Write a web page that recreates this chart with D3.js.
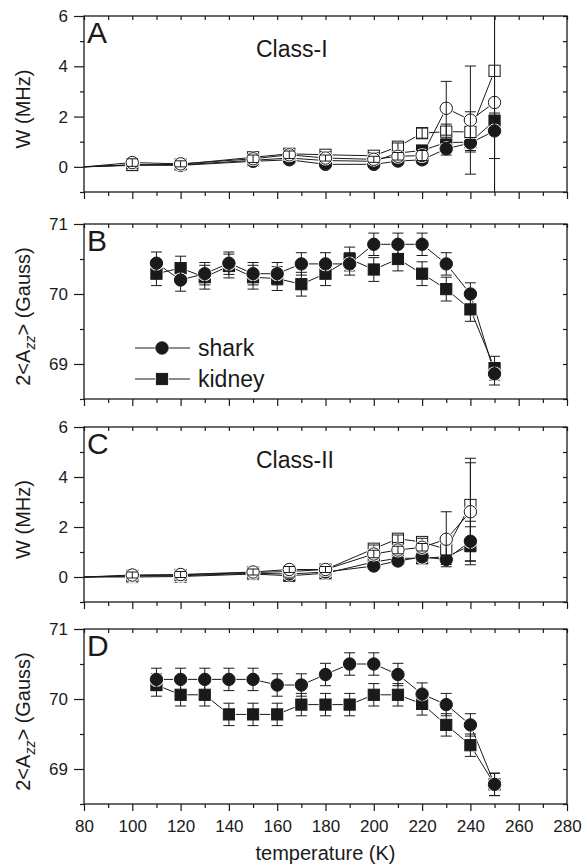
<!DOCTYPE html>
<html>
<head>
<meta charset="utf-8">
<script src="https://cdn.jsdelivr.net/npm/d3@7"></script>
<style>
  body { margin: 0; background: #fff; }
  svg text { font-family: "Liberation Sans", Arial, Helvetica, sans-serif; fill: #1a1a1a; }
</style>
</head>
<body>
<svg id="chart" width="582" height="868"></svg>
<script>
// ---- data ----
// Class-I W (MHz)
const tempA = [80, 100, 120, 150, 165, 180, 200, 210, 220, 230, 240, 250];
const sharkA = [0, 0.08, 0.06, 0.22, 0.28, 0.10, 0.10, 0.23, 0.28, 0.72, 0.95, 1.43];
const sharkAErr = [0, 0.10, 0.10, 0.12, 0.12, 0.10, 0.10, 0.12, 0.15, 0.25, 0.30, 1.10];
const kidneyA = [0, 0.06, 0.08, 0.26, 0.35, 0.25, 0.22, 0.55, 0.65, 0.97, 0.98, 1.84];
const kidneyAErr = [0, 0.10, 0.10, 0.12, 0.12, 0.10, 0.10, 0.12, 0.15, 0.25, 0.20, 0.30];
const sharkOpenA = [0, 0.17, 0.12, 0.32, 0.48, 0.35, 0.30, 0.42, 0.45, 2.33, 1.86, 2.56];
const sharkOpenAErr = [0, 0.15, 0.12, 0.15, 0.15, 0.12, 0.12, 0.15, 0.20, 1.07, 2.15, 7];
const kidneyOpenA = [0, 0.08, 0.10, 0.38, 0.52, 0.48, 0.44, 0.80, 1.34, 1.40, 1.39, 3.82];
const kidneyOpenAErr = [0, 0.15, 0.12, 0.15, 0.15, 0.12, 0.12, 0.15, 0.20, 0.30, 0.80, 6];

// Class-II W (MHz)
const tempC = [80, 100, 120, 150, 165, 180, 200, 210, 220, 230, 240];
const sharkC = [0, 0.04, 0.05, 0.15, 0.12, 0.20, 0.44, 0.64, 0.80, 0.70, 1.43];
const sharkCErr = [0, 0.10, 0.10, 0.10, 0.10, 0.10, 0.12, 0.12, 0.15, 0.20, 0.80];
const kidneyC = [0, 0.00, 0.02, 0.12, 0.05, 0.15, 0.60, 0.75, 0.75, 0.81, 1.25];
const kidneyCErr = [0, 0.10, 0.10, 0.10, 0.10, 0.10, 0.12, 0.12, 0.15, 0.20, 0.76];
const sharkOpenC = [0, 0.08, 0.10, 0.20, 0.30, 0.30, 0.92, 1.08, 1.19, 1.51, 2.61];
const sharkOpenCErr = [0, 0.12, 0.12, 0.12, 0.12, 0.12, 0.15, 0.15, 0.15, 1.10, 1.96];
const kidneyOpenC = [0, 0.05, 0.08, 0.18, 0.22, 0.30, 1.13, 1.53, 1.40, 1.11, 2.88];
const kidneyOpenCErr = [0, 0.12, 0.12, 0.12, 0.12, 0.12, 0.15, 0.15, 0.15, 0.25, 1.87];

// 2<Azz> (Gauss)
const tempB = [110, 120, 130, 140, 150, 160, 170, 180, 190, 200, 210, 220, 230, 240, 250];
const sharkB = [70.44, 70.20, 70.29, 70.44, 70.29, 70.29, 70.43, 70.43, 70.43, 70.71, 70.71, 70.71, 70.43, 70.00, 68.86];
const sharkBErr = [0.16, 0.16, 0.16, 0.16, 0.16, 0.16, 0.16, 0.16, 0.16, 0.16, 0.16, 0.16, 0.16, 0.16, 0.16];
const kidneyB = [70.29, 70.37, 70.24, 70.40, 70.24, 70.22, 70.14, 70.29, 70.50, 70.35, 70.50, 70.29, 70.07, 69.78, 68.94];
const kidneyBErr = [0.17, 0.17, 0.17, 0.17, 0.17, 0.17, 0.17, 0.17, 0.17, 0.17, 0.17, 0.17, 0.17, 0.17, 0.17];

const tempD = [110, 120, 130, 140, 150, 160, 170, 180, 190, 200, 210, 220, 230, 240, 250];
const sharkD = [70.28, 70.28, 70.28, 70.28, 70.28, 70.20, 70.20, 70.35, 70.50, 70.50, 70.35, 70.07, 69.92, 69.63, 68.78];
const sharkDErr = [0.16, 0.16, 0.16, 0.16, 0.16, 0.16, 0.16, 0.16, 0.16, 0.16, 0.16, 0.16, 0.16, 0.16, 0.16];
const kidneyD = [70.20, 70.06, 70.06, 69.78, 69.78, 69.78, 69.92, 69.92, 69.92, 70.06, 70.06, 69.93, 69.63, 69.34, 68.78];
const kidneyDErr = [0.16, 0.16, 0.16, 0.16, 0.16, 0.16, 0.16, 0.16, 0.16, 0.16, 0.16, 0.16, 0.16, 0.16, 0.16];

const xTicks = [80, 100, 120, 140, 160, 180, 200, 220, 240, 260, 280];
const wTicks = [0, 2, 4, 6];
const azzTicks = [69, 70, 71];
const legendItems = [{ label: 'shark', shape: 'circle' }, { label: 'kidney', shape: 'square' }];

// ---- layout ----
const svg = d3.select('#chart');
const ink = '#1a1a1a';
const left = 84, right = 567;
const x = d3.scaleLinear().domain([80, 280]).range([left, right]);

function pts(t, v, e) {
  return t.map((d, i) => ({ t: d, v: v[i], e: e[i] }));
}

const panels = [
  { id: 'A', top: 16, bottom: 192, domain: [-1, 6], major: wTicks, minorStep: 1, title: 'W (MHz)', note: 'Class-I',
    series: [
      { data: pts(tempA, kidneyA, kidneyAErr), shape: 'square', fill: ink },
      { data: pts(tempA, sharkA, sharkAErr), shape: 'circle', fill: ink },
      { data: pts(tempA, kidneyOpenA, kidneyOpenAErr), shape: 'square', fill: '#fff' },
      { data: pts(tempA, sharkOpenA, sharkOpenAErr), shape: 'circle', fill: '#fff' }
    ] },
  { id: 'B', top: 224, bottom: 399, domain: [68.5, 71], major: azzTicks, minorStep: 0.5, title: 'azz', legend: true,
    series: [
      { data: pts(tempB, kidneyB, kidneyBErr), shape: 'square', fill: ink },
      { data: pts(tempB, sharkB, sharkBErr), shape: 'circle', fill: ink }
    ] },
  { id: 'C', top: 427, bottom: 602, domain: [-1, 6], major: wTicks, minorStep: 1, title: 'W (MHz)', note: 'Class-II',
    series: [
      { data: pts(tempC, kidneyC, kidneyCErr), shape: 'square', fill: ink },
      { data: pts(tempC, sharkC, sharkCErr), shape: 'circle', fill: ink },
      { data: pts(tempC, kidneyOpenC, kidneyOpenCErr), shape: 'square', fill: '#fff' },
      { data: pts(tempC, sharkOpenC, sharkOpenCErr), shape: 'circle', fill: '#fff' }
    ] },
  { id: 'D', top: 629, bottom: 804, domain: [68.5, 71], major: azzTicks, minorStep: 0.5, title: 'azz', xLabels: true,
    series: [
      { data: pts(tempD, kidneyD, kidneyDErr), shape: 'square', fill: ink },
      { data: pts(tempD, sharkD, sharkDErr), shape: 'circle', fill: ink }
    ] }
];

const circleR = 6.2, sqHalf = 5.6, capHalf = 5.5;

function drawMarker(g, shape, cx, cy, fill, halo) {
  if (shape === 'circle') {
    g.append('circle').attr('cx', cx).attr('cy', cy).attr('r', circleR + (halo ? 1.2 : 0))
      .attr('fill', halo ? '#fff' : fill).attr('stroke', halo ? 'none' : ink).attr('stroke-width', 1);
  } else {
    const h = sqHalf + (halo ? 1.2 : 0);
    g.append('rect').attr('x', cx - h).attr('y', cy - h).attr('width', 2 * h).attr('height', 2 * h)
      .attr('fill', halo ? '#fff' : fill).attr('stroke', halo ? 'none' : ink).attr('stroke-width', 1);
  }
}

panels.forEach(p => {
  const y = d3.scaleLinear().domain(p.domain).range([p.bottom, p.top]);
  const g = svg.append('g');

  // clip for data
  svg.append('clipPath').attr('id', 'clip' + p.id)
    .append('rect').attr('x', left).attr('y', p.top).attr('width', right - left).attr('height', p.bottom - p.top);
  const data = g.append('g').attr('clip-path', `url(#clip${p.id})`);

  const minorY = d3.range(p.domain[0], p.domain[1] + 1e-9, p.minorStep).filter(v => !p.major.some(m => Math.abs(m - v) < 1e-9));
  const allY = d3.range(p.domain[0], p.domain[1] + 1e-9, p.minorStep);
  const minorX = d3.range(90, 280, 20);
  const allX = d3.range(80, 281, 10);

  // axes
  const axisStyle = sel => {
    sel.select('.domain').remove();
    sel.selectAll('line').attr('stroke', ink).attr('stroke-width', 1.2);
    sel.selectAll('text').style('font-size', '17px').attr('fill', ink);
  };
  g.append('g').attr('transform', `translate(0,${p.bottom})`)
    .call(d3.axisBottom(x).tickValues(xTicks).tickSize(7).tickPadding(9).tickFormat(p.xLabels ? d3.format('d') : ''))
    .call(axisStyle);
  g.append('g').attr('transform', `translate(0,${p.bottom})`)
    .call(d3.axisBottom(x).tickValues(minorX).tickSize(4).tickFormat(''))
    .call(axisStyle);
  g.append('g').attr('transform', `translate(0,${p.top})`)
    .call(d3.axisTop(x).tickValues(allX).tickSize(-4).tickFormat(''))
    .call(axisStyle);
  g.append('g').attr('transform', `translate(${left},0)`)
    .call(d3.axisLeft(y).tickValues(p.major).tickSize(10).tickPadding(6).tickFormat(d3.format('d')))
    .call(axisStyle);
  g.append('g').attr('transform', `translate(${left},0)`)
    .call(d3.axisLeft(y).tickValues(minorY).tickSize(4).tickFormat(''))
    .call(axisStyle);
  g.append('g').attr('transform', `translate(${right},0)`)
    .call(d3.axisRight(y).tickValues(allY).tickSize(-4).tickFormat(''))
    .call(axisStyle);

  // frame
  g.append('rect').attr('x', left).attr('y', p.top).attr('width', right - left).attr('height', p.bottom - p.top)
    .attr('fill', 'none').attr('stroke', ink).attr('stroke-width', 1.3);

  // series
  const line = d3.line().x(d => x(d.t)).y(d => y(d.v));
  p.series.forEach(s => {
    data.append('path').datum(s.data).attr('d', line)
      .attr('fill', 'none').attr('stroke', ink).attr('stroke-width', 1);
  });
  p.series.forEach(s => {
    s.data.filter(d => d.t > 80).forEach(d => {
      drawMarker(data, s.shape, x(d.t), y(d.v), s.fill, true);
    });
    s.data.filter(d => d.t > 80).forEach(d => {
      drawMarker(data, s.shape, x(d.t), y(d.v), s.fill, false);
    });
    s.data.filter(d => d.t > 80 && d.e > 0).forEach(d => {
      const cx = x(d.t), y1 = y(d.v + d.e), y0 = y(d.v - d.e);
      data.append('line').attr('x1', cx).attr('x2', cx).attr('y1', y1).attr('y2', y0)
        .attr('stroke', ink).attr('stroke-width', 1);
      [y1, y0].forEach(yy => {
        data.append('line').attr('x1', cx - capHalf).attr('x2', cx + capHalf).attr('y1', yy).attr('y2', yy)
          .attr('stroke', ink).attr('stroke-width', 1);
      });
    });
  });

  // panel letter and note
  g.append('text').attr('x', left + 3).attr('y', p.top + 27).style('font-size', '30px').text(p.id);
  if (p.note) {
    g.append('text').attr('x', 256).attr('y', p.top + 41).style('font-size', '23px').text(p.note);
  }

  // y title
  const cy = (p.top + p.bottom) / 2 + 5;
  const t = g.append('text').attr('transform', `translate(30,${cy}) rotate(-90)`)
    .attr('text-anchor', 'middle').style('font-size', '20px');
  if (p.title === 'azz') {
    t.append('tspan').text('2<A');
    t.append('tspan').attr('dy', 5).style('font-size', '14px').style('font-style', 'italic').text('zz');
    t.append('tspan').attr('dy', -5).text('> (Gauss)');
  } else {
    t.text(p.title);
  }

  // legend
  if (p.legend) {
    legendItems.forEach((it, i) => {
      const ly = 348 + i * 31;
      g.append('line').attr('x1', 135).attr('x2', 190).attr('y1', ly).attr('y2', ly)
        .attr('stroke', ink).attr('stroke-width', 1);
      drawMarker(g, it.shape, 162, ly, '#fff', true);
      drawMarker(g, it.shape, 162, ly, ink, false);
      g.append('text').attr('x', 198).attr('y', ly + 8).style('font-size', '23px').text(it.label);
    });
  }
});

// x title
svg.append('text').attr('x', (left + right) / 2).attr('y', 860).attr('text-anchor', 'middle')
  .style('font-size', '20px').text('temperature (K)');
</script>
</body>
</html>
